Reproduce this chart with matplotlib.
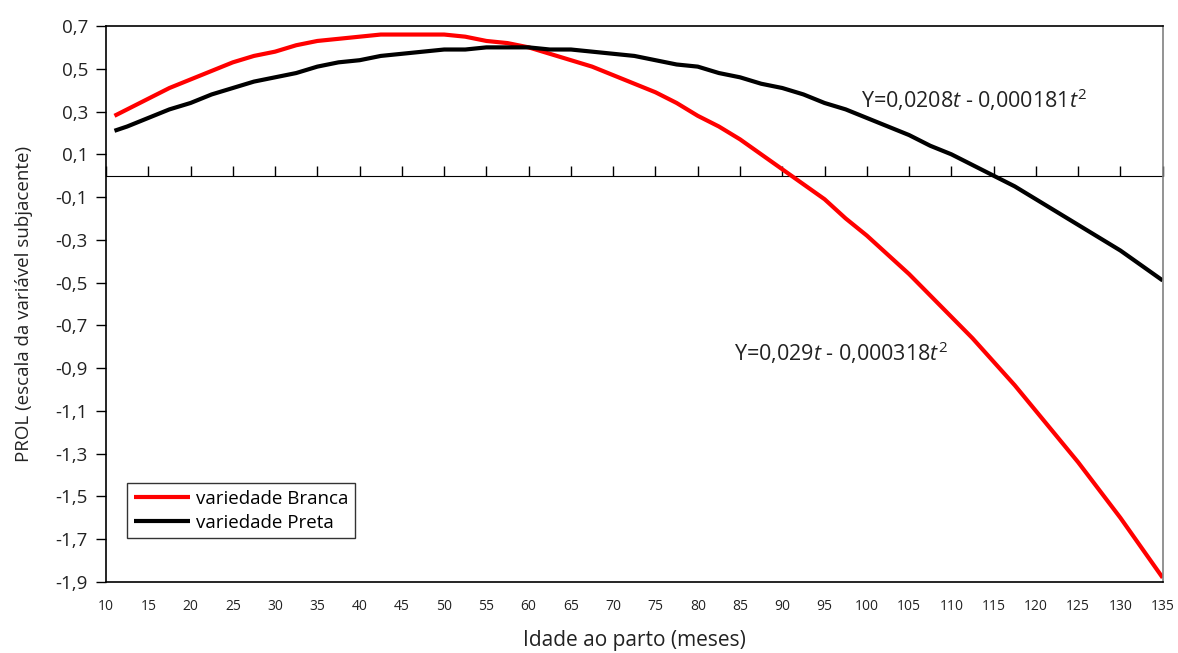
import matplotlib
matplotlib.use("Agg")
import matplotlib.pyplot as plt

plt.rcParams['font.family'] = ['Open Sans', 'DejaVu Sans']
plt.rcParams['mathtext.fontset'] = 'custom'
plt.rcParams['mathtext.rm'] = 'Open Sans'
plt.rcParams['mathtext.it'] = 'Open Sans:italic'

# months (age at calving)
months = [11, 12.5, 15, 17.5, 20, 22.5, 25, 27.5, 30, 32.5, 35, 37.5, 40,
          42.5, 45, 47.5, 50, 52.5, 55, 57.5, 60, 62.5, 65, 67.5, 70, 72.5,
          75, 77.5, 80, 82.5, 85, 87.5, 90, 92.5, 95, 97.5, 100, 102.5, 105,
          107.5, 110, 112.5, 115, 117.5, 120, 122.5, 125, 127.5, 130, 132.5,
          135]
branca = [0.28, 0.31, 0.36, 0.41, 0.45, 0.49, 0.53, 0.56, 0.58, 0.61, 0.63,
          0.64, 0.65, 0.66, 0.66, 0.66, 0.66, 0.65, 0.63, 0.62, 0.60, 0.57,
          0.54, 0.51, 0.47, 0.43, 0.39, 0.34, 0.28, 0.23, 0.17, 0.10, 0.03,
          -0.04, -0.11, -0.20, -0.28, -0.37, -0.46, -0.56, -0.66, -0.76,
          -0.87, -0.98, -1.10, -1.22, -1.34, -1.47, -1.60, -1.74, -1.88]
preta = [0.21, 0.23, 0.27, 0.31, 0.34, 0.38, 0.41, 0.44, 0.46, 0.48, 0.51,
         0.53, 0.54, 0.56, 0.57, 0.58, 0.59, 0.59, 0.60, 0.60, 0.60, 0.59,
         0.59, 0.58, 0.57, 0.56, 0.54, 0.52, 0.51, 0.48, 0.46, 0.43, 0.41,
         0.38, 0.34, 0.31, 0.27, 0.23, 0.19, 0.14, 0.10, 0.05, 0.00, -0.05,
         -0.11, -0.17, -0.23, -0.29, -0.35, -0.42, -0.49]

xticks = list(range(10, 136, 5))
yticks = [0.7, 0.5, 0.3, 0.1, -0.1, -0.3, -0.5, -0.7, -0.9, -1.1, -1.3,
          -1.5, -1.7, -1.9]
ylabels = [f"{v:.1f}".replace('.', ',') for v in yticks]

fig = plt.figure(figsize=(11.78, 6.53), dpi=100)
ax = fig.add_axes([0.09, 0.1087, 0.897, 0.8515])

ax.plot(months, branca, color='#ff0000', lw=3, label='variedade Branca',
        solid_capstyle='butt')
ax.plot(months, preta, color='#000000', lw=3, label='variedade Preta',
        solid_capstyle='butt')

ax.set_xlim(10, 135)
ax.set_ylim(-1.9, 0.7)

ax.set_yticks(yticks)
ax.set_yticklabels(ylabels, fontsize=13.5, color='#222222')
ax.tick_params(axis='y', direction='out', length=7, width=1, pad=6)

ax.set_xticks(xticks)
ax.set_xticklabels([str(v) for v in xticks], fontsize=10, color='#222222')
ax.tick_params(axis='x', length=0, pad=12)

for s in ['left', 'top', 'bottom']:
    ax.spines[s].set_color('black')
    ax.spines[s].set_linewidth(1.2)
ax.spines['right'].set_color('#808080')
ax.spines['right'].set_linewidth(1.2)

# zero line with tick marks
sec = ax.secondary_xaxis(1.9 / 2.6)
sec.set_xticks(xticks)
sec.set_xticklabels([])
sec.tick_params(direction='out', length=7, width=1, color='black')
sec.spines['bottom'].set_linewidth(1.2)

ax.set_xlabel('Idade ao parto (meses)', fontsize=15, color='#222222', labelpad=12)
ax.set_ylabel('PROL (escala da variável subjacente)', fontsize=13.5,
              color='#222222', labelpad=16)

ax.text(99.3, 0.355, r'Y=0,0208$t$ - 0,000181$t^2$', fontsize=15.5,
        color='#222222', va='center', ha='left')
ax.text(84.3, -0.83, r'Y=0,029$t$ - 0,000318$t^2$', fontsize=15.5,
        color='#222222', va='center', ha='left')

leg = ax.legend(loc='lower left', bbox_to_anchor=(0.02, 0.079), fontsize=13.5,
                frameon=True, fancybox=False, handlelength=3.0,
                borderpad=0.35, labelspacing=0.3, handletextpad=0.3,
                borderaxespad=0)
leg.get_frame().set_edgecolor('black')
leg.get_frame().set_linewidth(1.0)

fig.savefig('out.png', dpi=100)
